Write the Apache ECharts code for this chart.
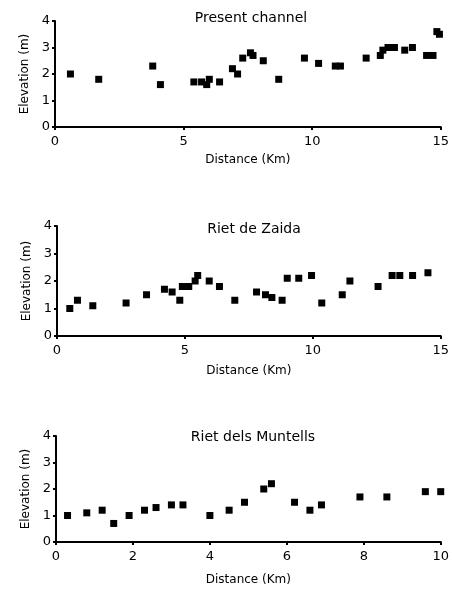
<!DOCTYPE html>
<html>
<head>
    <meta charset="utf-8">
    <title>Elevation profiles</title>
    <script src="https://cdn.jsdelivr.net/npm/echarts@6/dist/echarts.min.js"></script>
    <style>
        html, body { margin: 0; padding: 0; background: #fff; }
    </style>
</head>
<body>
<div id="main" style="width: 452px;height:589px;"></div>

<script type="text/javascript">
    // Present channel
    let presentX = [0.6, 1.7, 3.8, 4.1, 5.4, 5.7, 5.9, 6.0, 6.4, 6.9, 7.1, 7.3, 7.6, 7.7, 8.1, 8.7,
        9.7, 10.25, 10.9, 11.1, 12.1, 12.65, 12.75, 12.95, 13.2, 13.6, 13.9, 14.45, 14.7, 14.85, 14.95];
    let presentY = [2.0, 1.8, 2.3, 1.6, 1.7, 1.7, 1.6, 1.8, 1.7, 2.2, 2.0, 2.6, 2.8, 2.7, 2.5, 1.8,
        2.6, 2.4, 2.3, 2.3, 2.6, 2.7, 2.9, 3.0, 3.0, 2.9, 3.0, 2.7, 2.7, 3.6, 3.5];

    // Riet de Zaida
    let zaidaX = [0.5, 0.8, 1.4, 2.7, 3.5, 4.2, 4.5, 4.8, 4.9, 5.15, 5.4, 5.5, 5.95, 6.35, 6.95,
        7.8, 8.15, 8.4, 8.8, 9.0, 9.45, 9.95, 10.35, 11.15, 11.45, 12.55, 13.1, 13.4, 13.9, 14.5];
    let zaidaY = [1.0, 1.3, 1.1, 1.2, 1.5, 1.7, 1.6, 1.3, 1.8, 1.8, 2.0, 2.2, 2.0, 1.8, 1.3,
        1.6, 1.5, 1.4, 1.3, 2.1, 2.1, 2.2, 1.2, 1.5, 2.0, 1.8, 2.2, 2.2, 2.2, 2.3];

    // Riet dels Muntells
    let muntellsX = [0.3, 0.8, 1.2, 1.5, 1.9, 2.3, 2.6, 3.0, 3.3, 4.0, 4.5, 4.9, 5.4, 5.6,
        6.2, 6.6, 6.9, 7.9, 8.6, 9.6, 10.0];
    let muntellsY = [1.0, 1.1, 1.2, 0.7, 1.0, 1.2, 1.3, 1.4, 1.4, 1.0, 1.2, 1.5, 2.0, 2.2,
        1.5, 1.2, 1.4, 1.7, 1.7, 1.9, 1.9];

    let titles = ['Present channel', 'Riet de Zaida', 'Riet dels Muntells'];
    let xMax = [15, 15, 10];
    let xStep = [5, 5, 2];
    let yTicks = [0, 1, 2, 3, 4];

    let font = 'DejaVu Sans';
    let grids = [
        {left: 55, width: 386, top: 21, height: 106},
        {left: 57, width: 387, top: 226, height: 110},
        {left: 56, width: 387, top: 436, height: 106}
    ];
    let titleTops = [6, 217, 425];
    let titleCenters = [246, 249, 248];
    let xNameGap = [27, 29, 32];

    function pairs(xs, ys) {
        return xs.map((x, i) => [x, ys[i]]);
    }
    let allData = [pairs(presentX, presentY), pairs(zaidaX, zaidaY), pairs(muntellsX, muntellsY)];

    let axisLine = {show: true, lineStyle: {color: '#000', width: 2}};
    let axisTick = {show: true, inside: false, length: 3, lineStyle: {color: '#000', width: 2}};

    let option = {
        animation: false,
        backgroundColor: '#fff',
        title: titles.map((t, i) => ({
            text: t,
            left: titleCenters[i],
            textAlign: 'center',
            top: titleTops[i],
            textStyle: {fontFamily: font, fontSize: 14, fontWeight: 'normal', color: '#000'}
        })),
        grid: grids,
        xAxis: grids.map((g, i) => ({
            type: 'value',
            gridIndex: i,
            min: 0,
            max: xMax[i],
            interval: xStep[i],
            name: 'Distance (Km)',
            nameLocation: 'middle',
            nameGap: xNameGap[i],
            nameTextStyle: {fontFamily: font, fontSize: 12, color: '#000'},
            axisLine: axisLine,
            axisTick: axisTick,
            splitLine: {show: false},
            axisLabel: {fontFamily: font, fontSize: 13, color: '#000', margin: 8}
        })),
        yAxis: grids.map((g, i) => ({
            type: 'value',
            gridIndex: i,
            min: yTicks[0],
            max: yTicks[yTicks.length - 1],
            interval: 1,
            name: 'Elevation (m)',
            nameLocation: 'middle',
            nameRotate: 90,
            nameGap: 23,
            nameTextStyle: {fontFamily: font, fontSize: 12, color: '#000'},
            axisLine: axisLine,
            axisTick: axisTick,
            splitLine: {show: false},
            axisLabel: {fontFamily: font, fontSize: 13, color: '#000', margin: 5}
        })),
        series: allData.map((d, i) => ({
            type: 'scatter',
            xAxisIndex: i,
            yAxisIndex: i,
            data: d,
            symbol: 'rect',
            symbolSize: 7,
            itemStyle: {color: '#000', opacity: 1}
        }))
    };

    let chart = echarts.init(document.getElementById('main'));
    chart.setOption(option);
</script>
</body>
</html>
